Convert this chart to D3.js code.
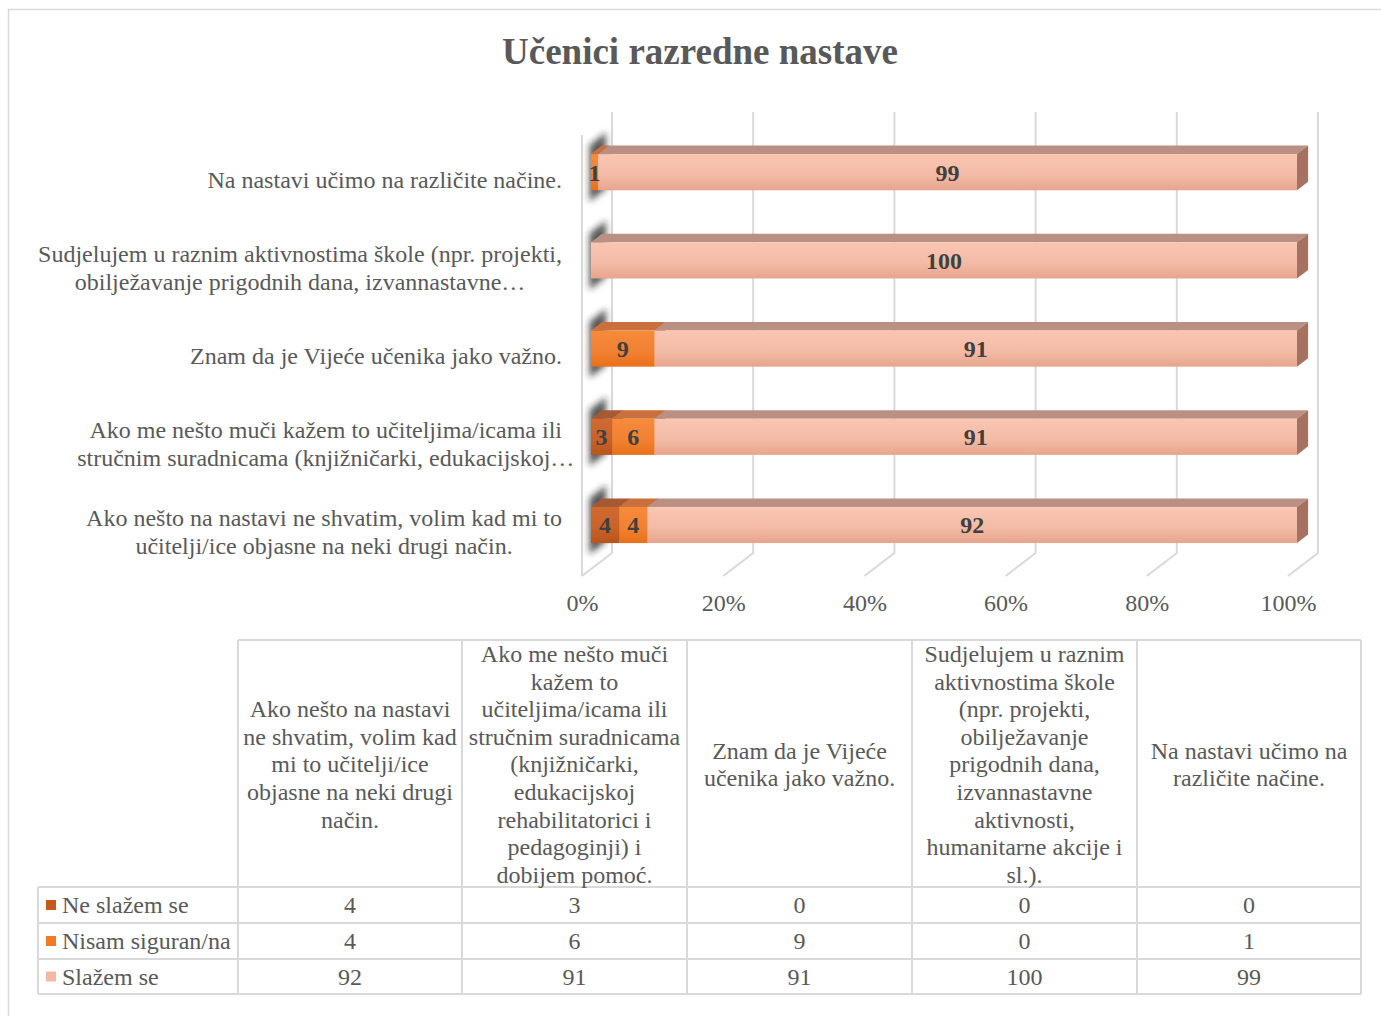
<!DOCTYPE html>
<html>
<head>
<meta charset="utf-8">
<script src="https://cdn.jsdelivr.net/npm/d3@7"></script>
<style>
  body { margin: 0; background: #fff; }
  svg { display: block; font-family: "Liberation Serif", "Times New Roman", serif; }
</style>
</head>
<body>
<svg id="chart" width="1381" height="1016"></svg>
<script>
// data, in table order (first category = bottom bar)
var seriesNames = ["Ne slažem se", "Nisam siguran/na", "Slažem se"];
var neSlazem = [4, 3, 0, 0, 0];
var nisam = [4, 6, 9, 0, 1];
var slazem = [92, 91, 91, 100, 99];
var tickValues = [0, 20, 40, 60, 80, 100];

// labels as they show next to the bars
var barLabels = [
  ["Ako nešto na nastavi ne shvatim, volim kad mi to", "učitelji/ice objasne na neki drugi način."],
  ["Ako me nešto muči kažem to učiteljima/icama ili", "stručnim suradnicama (knjižničarki, edukacijskoj…"],
  ["Znam da je Vijeće učenika jako važno."],
  ["Sudjelujem u raznim aktivnostima škole (npr. projekti,", "obilježavanje prigodnih dana, izvannastavne…"],
  ["Na nastavi učimo na različite načine."]
];

// table header, wrapped like the picture
var headerLines = [
  ["Ako nešto na nastavi", "ne shvatim, volim kad", "mi to učitelji/ice", "objasne na neki drugi", "način."],
  ["Ako me nešto muči", "kažem to", "učiteljima/icama ili", "stručnim suradnicama", "(knjižničarki,", "edukacijskoj", "rehabilitatorici i", "pedagoginji) i", "dobijem pomoć."],
  ["Znam da je Vijeće", "učenika jako važno."],
  ["Sudjelujem u raznim", "aktivnostima škole", "(npr. projekti,", "obilježavanje", "prigodnih dana,", "izvannastavne", "aktivnosti,", "humanitarne akcije i", "sl.)."],
  ["Na nastavi učimo na", "različite načine."]
];

var svg = d3.select("#chart");
var defs = svg.append("defs");

var textColor = "#595959";
var gridColor = "#d9d9d9";
var fs = 24;

// colours per series: front face gradient, top face, side face, legend key
var palette = [
  { top: "#a65a33", side: "#8f4a25", f0: "#d06a30", f1: "#b9541c", key: "#c55a1f" },
  { top: "#c9703c", side: "#b05a28", f0: "#f68a3c", f1: "#e8701c", key: "#f07a26" },
  { top: "#ba9085", side: "#a57262", f0: "#f9c6b2", f1: "#e8a48d", key: "#f4b8a3" }
];

palette.forEach(function(p, i) {
  var g = defs.append("linearGradient")
    .attr("id", "front" + i)
    .attr("x1", 0).attr("y1", 0).attr("x2", 0).attr("y2", 1);
  g.append("stop").attr("offset", "0%").attr("stop-color", p.f0);
  g.append("stop").attr("offset", "55%").attr("stop-color", d3.interpolateRgb(p.f0, p.f1)(0.3));
  g.append("stop").attr("offset", "100%").attr("stop-color", p.f1);
});

defs.append("filter").attr("id", "blur")
  .attr("x", "-100%").attr("y", "-50%").attr("width", "300%").attr("height", "200%")
  .append("feGaussianBlur").attr("stdDeviation", 3);

// outer frame
svg.append("path")
  .attr("d", "M8.5,1020V9.5H1390")
  .attr("fill", "none")
  .attr("stroke", gridColor)
  .attr("stroke-width", 1.5);

// title
svg.append("text")
  .attr("x", 700).attr("y", 64)
  .attr("text-anchor", "middle")
  .attr("font-size", 37)
  .attr("font-weight", "bold")
  .attr("fill", textColor)
  .text("Učenici razredne nastave");

// 3D projection: depth 0 = back wall, 1 = front
var DX = -30, DY = 23;
function px(x, d) { return x + DX * d; }
function py(y, d) { return y + DY * d; }

var x = d3.scaleLinear().domain([0, 100]).range([612, 1318]);
var y = d3.scaleBand().domain(d3.range(5)).range([553, 112])
  .paddingInner(0.59).paddingOuter(0.295);

var wallTop = 112, wallBottom = 553;

// grid on back wall and floor
var grid = svg.append("g")
  .attr("fill", "none")
  .attr("stroke", gridColor)
  .attr("stroke-width", 2);

tickValues.forEach(function(t) {
  var xb = x(t);
  grid.append("path")
    .attr("d", "M" + xb + "," + wallTop + "V" + wallBottom + "L" + px(xb, 1) + "," + py(wallBottom, 1));
});
// left wall front edge
grid.append("path")
  .attr("d", "M" + px(x(0), 1) + "," + py(wallTop, 1) + "V" + py(wallBottom, 1));

// stacked values
var rows = neSlazem.map(function(v, i) {
  return { 0: neSlazem[i], 1: nisam[i], 2: slazem[i] };
});
var stack = d3.stack().keys([0, 1, 2])(rows);

var dFront = 0.7, dBack = 0.33;
var bw = y.bandwidth();

// shadows on the left wall
var shadows = svg.append("g").attr("filter", "url(#blur)");
d3.range(5).forEach(function(i) {
  var t = y(i) - 10, b = y(i) + bw + 10;
  var d0 = 0.2, d1 = 0.75;
  var xb = x(0);
  shadows.append("polygon")
    .attr("points", [
      [px(xb, d0), py(t, d0)],
      [px(xb, d1), py(t, d1)],
      [px(xb, d1), py(b, d1)],
      [px(xb, d0), py(b, d0)]
    ].map(function(p) { return p.join(","); }).join(" "))
    .attr("fill", "#222")
    .attr("opacity", 0.75);
});

// bars
var bars = svg.append("g");
stack.forEach(function(layer, s) {
  var p = palette[s];
  layer.forEach(function(seg, i) {
    var v0 = seg[0], v1 = seg[1];
    if (v1 - v0 <= 0) return;
    var t = y(i), b = y(i) + bw;
    var fx0 = px(x(v0), dFront), fx1 = px(x(v1), dFront);
    var bx0 = px(x(v0), dBack), bx1 = px(x(v1), dBack);
    var ft = py(t, dFront), fb = py(b, dFront);
    var bt = py(t, dBack), bb = py(b, dBack);
    bars.append("polygon")
      .attr("points", [[fx0, ft], [fx1, ft], [bx1, bt], [bx0, bt]].map(function(q) { return q.join(","); }).join(" "))
      .attr("fill", p.top);
    bars.append("polygon")
      .attr("points", [[fx1, ft], [bx1, bt], [bx1, bb], [fx1, fb]].map(function(q) { return q.join(","); }).join(" "))
      .attr("fill", p.side);
    bars.append("rect")
      .attr("x", fx0).attr("y", ft)
      .attr("width", fx1 - fx0).attr("height", fb - ft)
      .attr("fill", "url(#front" + s + ")");
  });
});

// data labels
var labels = svg.append("g")
  .attr("font-size", fs)
  .attr("font-weight", "bold")
  .attr("fill", "#404040")
  .attr("text-anchor", "middle");
stack.forEach(function(layer, s) {
  layer.forEach(function(seg, i) {
    var v = seg[1] - seg[0];
    if (v <= 0) return;
    var cx = px(x((seg[0] + seg[1]) / 2), dFront);
    var cy = py(y(i) + bw / 2, dFront);
    labels.append("text")
      .attr("x", cx).attr("y", cy)
      .attr("dy", "0.35em")
      .text(v);
  });
});

// category labels
var cats = svg.append("g")
  .attr("font-size", fs)
  .attr("fill", textColor);
barLabels.forEach(function(lines, i) {
  var cy = py(y(i) + bw / 2, 1);
  var lh = 28;
  var g = cats.append("g");
  var first = g.append("text").attr("x", 0).attr("y", 0).text(lines[0]);
  var w = first.node().getComputedTextLength();
  first.remove();
  var cxl = 562 - w / 2;
  lines.forEach(function(line, k) {
    g.append("text")
      .attr("x", lines.length > 1 ? cxl : 562)
      .attr("y", cy + (k - (lines.length - 1) / 2) * lh)
      .attr("dy", "0.35em")
      .attr("text-anchor", lines.length > 1 ? "middle" : "end")
      .text(line);
  });
});

// percent axis at the front edge
var xFront = d3.scaleLinear().domain([0, 100]).range([px(x(0), 1), px(x(100), 1)]);
var axis = svg.append("g")
  .attr("transform", "translate(0," + 603 + ")")
  .call(d3.axisBottom(xFront).tickValues(tickValues).tickSize(0).tickFormat(function(d) { return d + "%"; }));
axis.select(".domain").remove();
axis.selectAll("text")
  .attr("y", 0).attr("dy", "0.35em")
  .attr("font-family", "Liberation Serif, Times New Roman, serif")
  .attr("font-size", fs)
  .attr("fill", textColor);

// data table
var colX = [238, 462, 687, 912, 1137, 1361];
var legendX = 38;
var headTop = 640, rowY = [887, 923, 959, 994];
var seriesValues = [neSlazem, nisam, slazem];

var table = svg.append("g");
var lines = table.append("g")
  .attr("fill", "none")
  .attr("stroke", gridColor)
  .attr("stroke-width", 2);

lines.append("path").attr("d", "M" + colX[0] + "," + headTop + "H" + colX[5]);
rowY.forEach(function(ry) {
  lines.append("path").attr("d", "M" + legendX + "," + ry + "H" + colX[5]);
});
colX.forEach(function(cx) {
  lines.append("path").attr("d", "M" + cx + "," + headTop + "V" + rowY[3]);
});
lines.append("path").attr("d", "M" + legendX + "," + rowY[0] + "V" + rowY[3]);

var tText = table.append("g")
  .attr("font-size", fs)
  .attr("fill", textColor);

headerLines.forEach(function(hl, c) {
  var cx = (colX[c] + colX[c + 1]) / 2;
  var cy = 764;
  var lh = 27.6;
  hl.forEach(function(line, k) {
    tText.append("text")
      .attr("x", cx)
      .attr("y", cy + (k - (hl.length - 1) / 2) * lh)
      .attr("dy", "0.35em")
      .attr("text-anchor", "middle")
      .text(line);
  });
});

seriesNames.forEach(function(name, r) {
  var cy = (rowY[r] + rowY[r + 1]) / 2;
  table.append("rect")
    .attr("x", 46).attr("y", cy - 5)
    .attr("width", 10).attr("height", 10)
    .attr("fill", palette[r].key);
  tText.append("text")
    .attr("x", 62).attr("y", cy)
    .attr("dy", "0.35em")
    .text(name);
  seriesValues[r].forEach(function(v, c) {
    tText.append("text")
      .attr("x", (colX[c] + colX[c + 1]) / 2)
      .attr("y", cy)
      .attr("dy", "0.35em")
      .attr("text-anchor", "middle")
      .text(v);
  });
});
</script>
</body>
</html>
